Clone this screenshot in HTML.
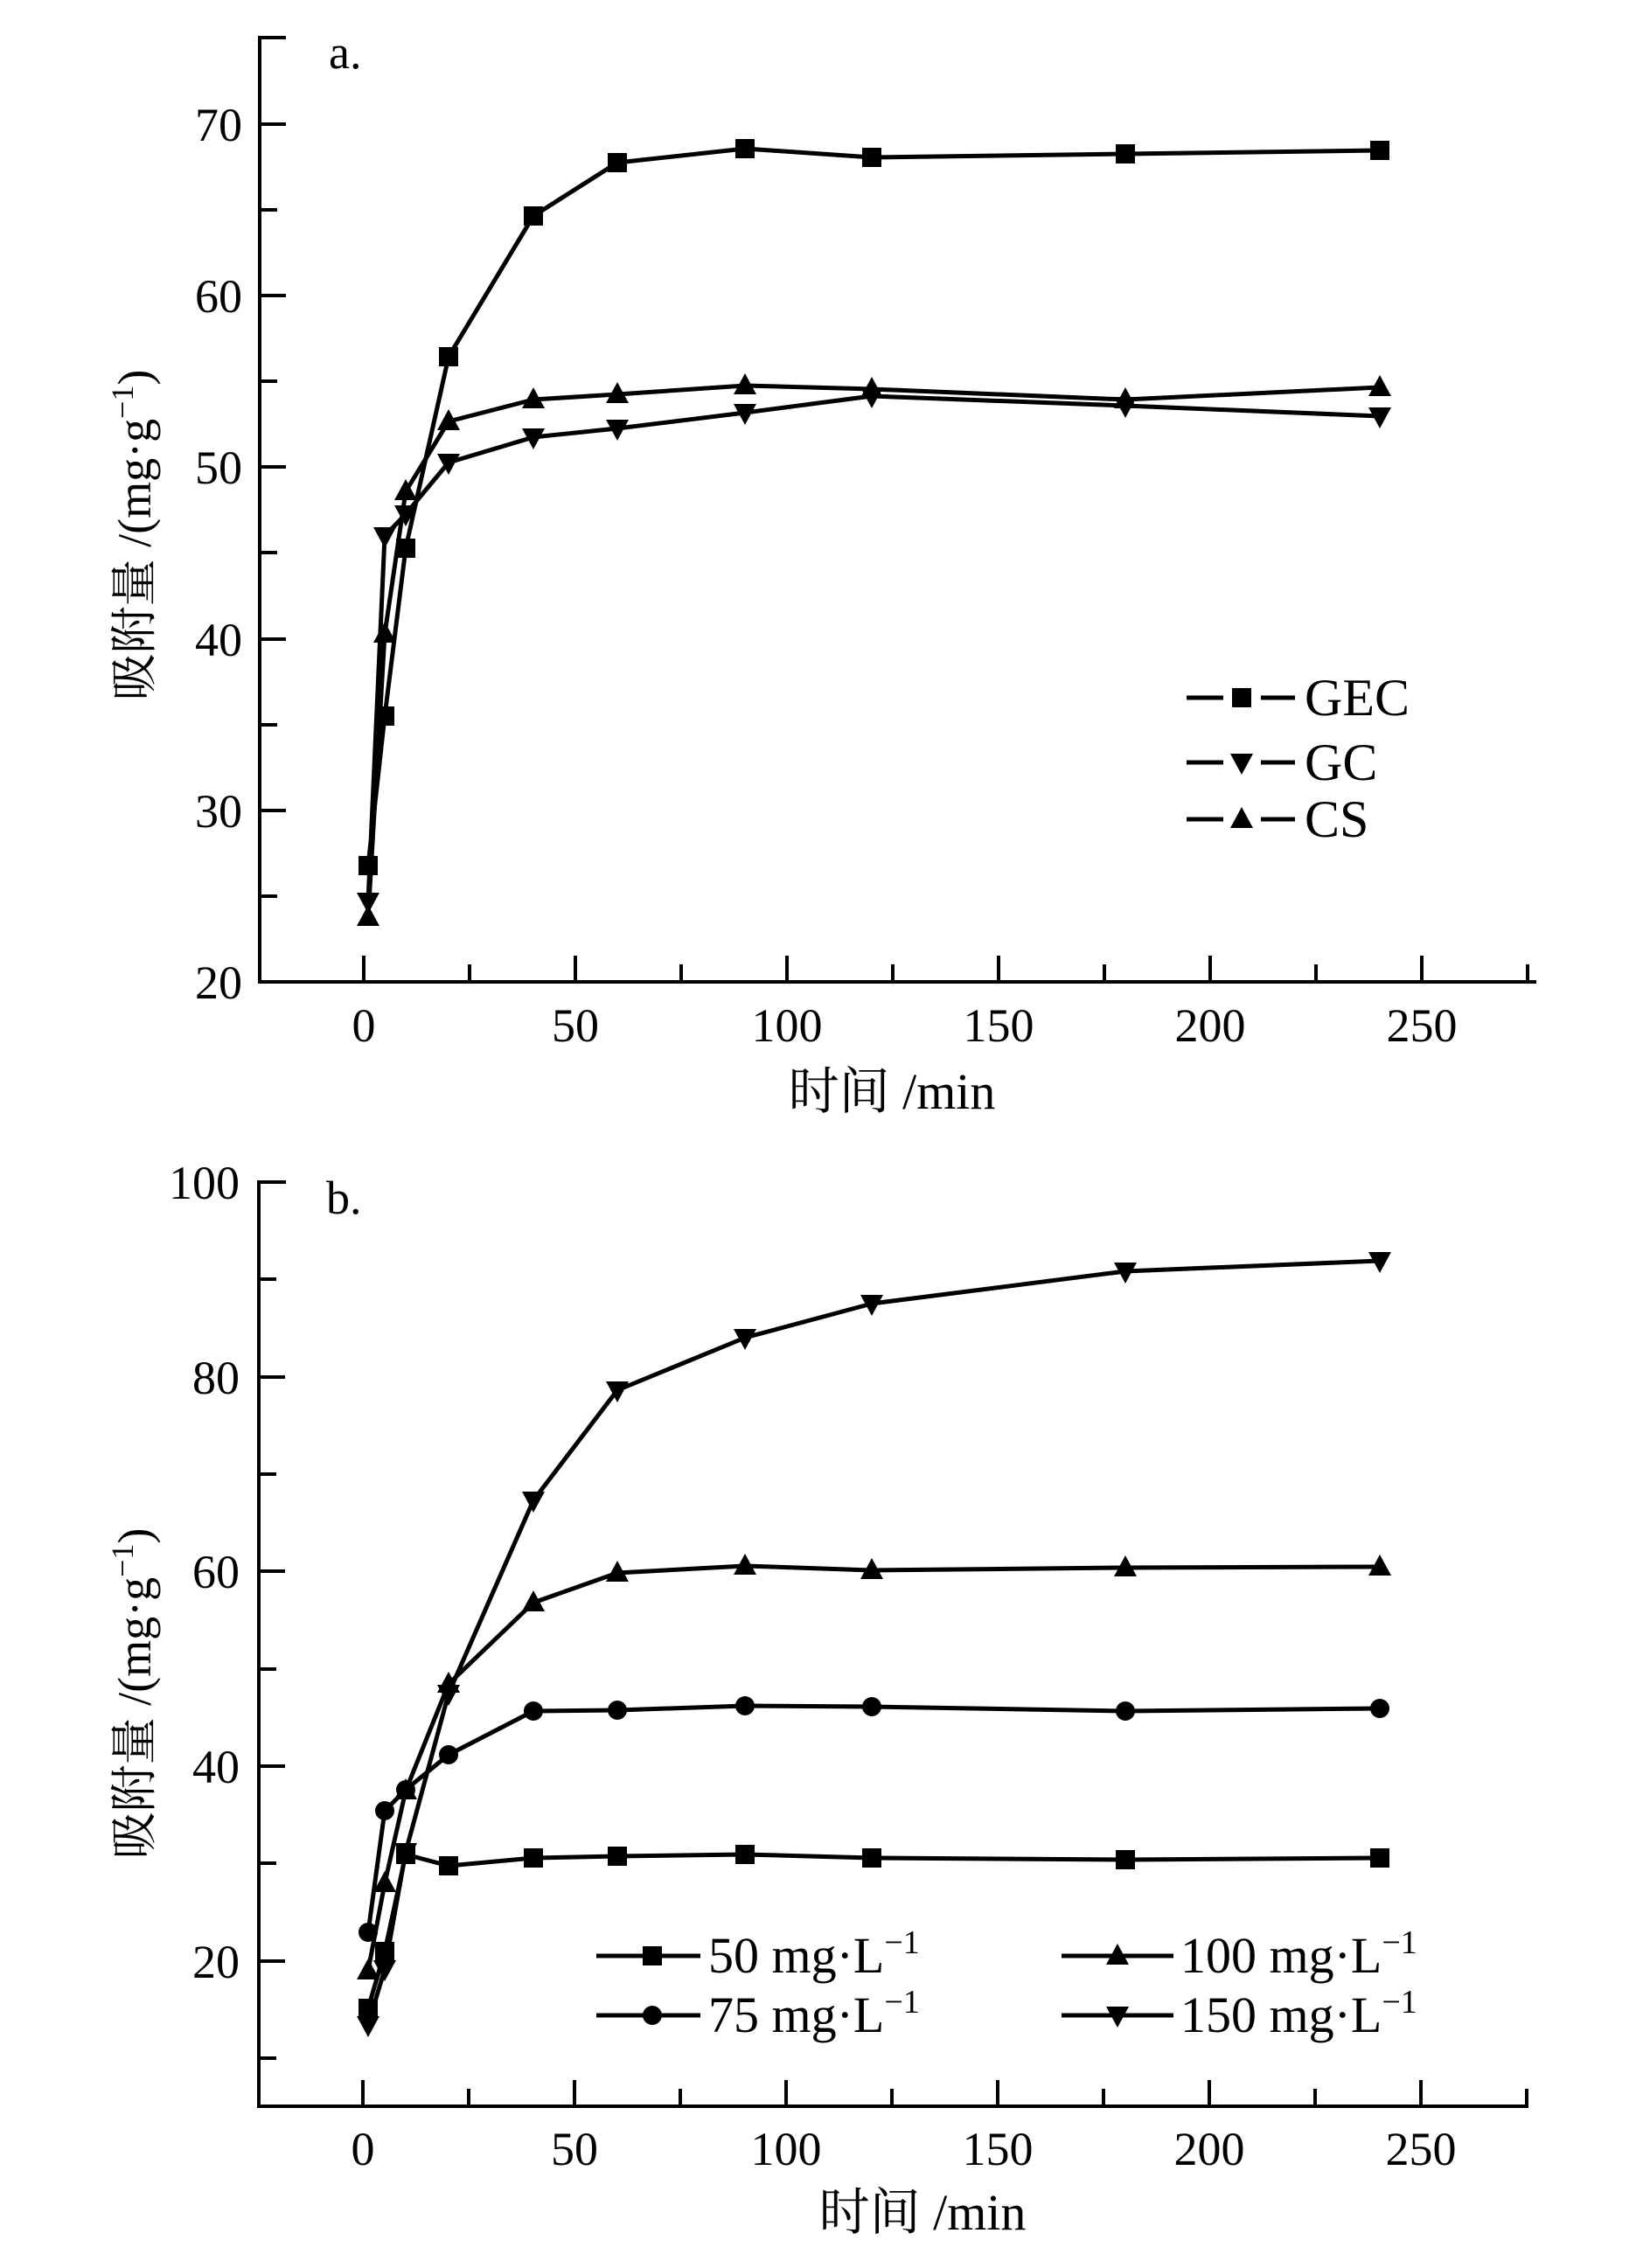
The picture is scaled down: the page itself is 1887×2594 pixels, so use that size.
<!DOCTYPE html>
<html><head><meta charset="utf-8"><style>
html,body{margin:0;padding:0;background:#fff;}
svg{display:block;}
text{font-family:"Liberation Serif","Noto Serif CJK SC",serif;fill:#000;}
</style></head><body>
<svg width="1887" height="2594" viewBox="0 0 1887 2594" xmlns="http://www.w3.org/2000/svg">
<defs>
<rect id="sq" x="-11" y="-11" width="22" height="22" fill="#000"/>
<polygon id="up" points="0,-14 13,10 -13,10" fill="#000"/>
<polygon id="dn" points="0,14 13,-10 -13,-10" fill="#000"/>
<circle id="ci" r="11" fill="#000"/>
</defs>
<g stroke="#000" stroke-width="4" fill="none">
<polyline points="327,43 297,43 297,1123 1757,1123"/>
<line x1="297" y1="142" x2="327" y2="142"/><line x1="297" y1="338" x2="327" y2="338"/>
<line x1="297" y1="534" x2="327" y2="534"/><line x1="297" y1="731" x2="327" y2="731"/>
<line x1="297" y1="927" x2="327" y2="927"/>
<line x1="297" y1="240" x2="317" y2="240"/><line x1="297" y1="436" x2="317" y2="436"/>
<line x1="297" y1="632" x2="317" y2="632"/><line x1="297" y1="829" x2="317" y2="829"/>
<line x1="297" y1="1025" x2="317" y2="1025"/>
<line x1="416" y1="1123" x2="416" y2="1093"/><line x1="658" y1="1123" x2="658" y2="1093"/>
<line x1="900" y1="1123" x2="900" y2="1093"/><line x1="1142" y1="1123" x2="1142" y2="1093"/>
<line x1="1384" y1="1123" x2="1384" y2="1093"/><line x1="1626" y1="1123" x2="1626" y2="1093"/>
<line x1="537" y1="1123" x2="537" y2="1103"/><line x1="779" y1="1123" x2="779" y2="1103"/>
<line x1="1021" y1="1123" x2="1021" y2="1103"/><line x1="1263" y1="1123" x2="1263" y2="1103"/>
<line x1="1505" y1="1123" x2="1505" y2="1103"/><line x1="1747" y1="1123" x2="1747" y2="1103"/>
<polyline points="327,1352 296,1352 296,2409 1748,2409"/>
<line x1="296" y1="1575" x2="326" y2="1575"/><line x1="296" y1="1797" x2="326" y2="1797"/>
<line x1="296" y1="2020" x2="326" y2="2020"/><line x1="296" y1="2243" x2="326" y2="2243"/>
<line x1="296" y1="1463" x2="316" y2="1463"/><line x1="296" y1="1686" x2="316" y2="1686"/>
<line x1="296" y1="1909" x2="316" y2="1909"/><line x1="296" y1="2131" x2="316" y2="2131"/>
<line x1="296" y1="2354" x2="316" y2="2354"/>
<line x1="415" y1="2409" x2="415" y2="2379"/><line x1="657" y1="2409" x2="657" y2="2379"/>
<line x1="899" y1="2409" x2="899" y2="2379"/><line x1="1141" y1="2409" x2="1141" y2="2379"/>
<line x1="1383" y1="2409" x2="1383" y2="2379"/><line x1="1625" y1="2409" x2="1625" y2="2379"/>
<line x1="536" y1="2409" x2="536" y2="2389"/><line x1="778" y1="2409" x2="778" y2="2389"/>
<line x1="1020" y1="2409" x2="1020" y2="2389"/><line x1="1262" y1="2409" x2="1262" y2="2389"/>
<line x1="1504" y1="2409" x2="1504" y2="2389"/><line x1="1746" y1="2409" x2="1746" y2="2389"/>
</g>
<g stroke="#000" stroke-width="5" fill="none" stroke-linejoin="round">
<polyline points="421,990 440,819 464,627 513,408 610,247 706,186 852,170 997,180 1287,176 1578,172"/>
<polyline points="421,1031 440,613 464,588 513,529 610,500 706,490 852,472 997,453 1287,464 1578,476"/>
<polyline points="421,1049 440,725 464,562 513,482 610,457 706,451 852,441 997,445 1287,457 1578,443"/>
<polyline points="421,2297 440,2232 464,2121 513,2134 610,2125 706,2123 852,2121 997,2125 1287,2127 1578,2125"/>
<polyline points="421,2210 440,2071 464,2047 513,2007 610,1957 706,1956 852,1951 997,1952 1287,1957 1578,1954"/>
<polyline points="421,2254 440,2154 464,2048 513,1926 610,1833 706,1799 852,1791 997,1796 1287,1793 1578,1792"/>
<polyline points="421,2316 440,2252 464,2118 513,1937 610,1716 706,1590 852,1530 997,1491 1287,1454 1578,1442"/>
<line x1="1357" y1="798" x2="1399" y2="798"/><line x1="1442" y1="798" x2="1481" y2="798"/>
<line x1="1357" y1="872" x2="1399" y2="872"/><line x1="1442" y1="872" x2="1481" y2="872"/>
<line x1="1357" y1="937" x2="1399" y2="937"/><line x1="1442" y1="937" x2="1481" y2="937"/>
<line x1="682" y1="2237" x2="801" y2="2237"/><line x1="682" y1="2305" x2="801" y2="2305"/>
<line x1="1214" y1="2237" x2="1342" y2="2237"/><line x1="1214" y1="2305" x2="1342" y2="2305"/>
</g>
<g>
<use href="#sq" x="421" y="990"/><use href="#sq" x="440" y="819"/><use href="#sq" x="464" y="627"/><use href="#sq" x="513" y="408"/><use href="#sq" x="610" y="247"/><use href="#sq" x="706" y="186"/><use href="#sq" x="852" y="170"/><use href="#sq" x="997" y="180"/><use href="#sq" x="1287" y="176"/><use href="#sq" x="1578" y="172"/>
<use href="#dn" x="421" y="1031"/><use href="#dn" x="440" y="613"/><use href="#dn" x="464" y="588"/><use href="#dn" x="513" y="529"/><use href="#dn" x="610" y="500"/><use href="#dn" x="706" y="490"/><use href="#dn" x="852" y="472"/><use href="#dn" x="997" y="453"/><use href="#dn" x="1287" y="464"/><use href="#dn" x="1578" y="476"/>
<use href="#up" x="421" y="1049"/><use href="#up" x="440" y="725"/><use href="#up" x="464" y="562"/><use href="#up" x="513" y="482"/><use href="#up" x="610" y="457"/><use href="#up" x="706" y="451"/><use href="#up" x="852" y="441"/><use href="#up" x="997" y="445"/><use href="#up" x="1287" y="457"/><use href="#up" x="1578" y="443"/>
<use href="#sq" x="1420" y="798"/><use href="#dn" x="1420" y="872"/><use href="#up" x="1420" y="937"/>
</g>
<g>
<use href="#sq" x="421" y="2297"/><use href="#sq" x="440" y="2232"/><use href="#sq" x="464" y="2121"/><use href="#sq" x="513" y="2134"/><use href="#sq" x="610" y="2125"/><use href="#sq" x="706" y="2123"/><use href="#sq" x="852" y="2121"/><use href="#sq" x="997" y="2125"/><use href="#sq" x="1287" y="2127"/><use href="#sq" x="1578" y="2125"/>
<use href="#ci" x="421" y="2210"/><use href="#ci" x="440" y="2071"/><use href="#ci" x="464" y="2047"/><use href="#ci" x="513" y="2007"/><use href="#ci" x="610" y="1957"/><use href="#ci" x="706" y="1956"/><use href="#ci" x="852" y="1951"/><use href="#ci" x="997" y="1952"/><use href="#ci" x="1287" y="1957"/><use href="#ci" x="1578" y="1954"/>
<use href="#up" x="421" y="2254"/><use href="#up" x="440" y="2154"/><use href="#up" x="464" y="2048"/><use href="#up" x="513" y="1926"/><use href="#up" x="610" y="1833"/><use href="#up" x="706" y="1799"/><use href="#up" x="852" y="1791"/><use href="#up" x="997" y="1796"/><use href="#up" x="1287" y="1793"/><use href="#up" x="1578" y="1792"/>
<use href="#dn" x="421" y="2316"/><use href="#dn" x="440" y="2252"/><use href="#dn" x="464" y="2118"/><use href="#dn" x="513" y="1937"/><use href="#dn" x="610" y="1716"/><use href="#dn" x="706" y="1590"/><use href="#dn" x="852" y="1530"/><use href="#dn" x="997" y="1491"/><use href="#dn" x="1287" y="1454"/><use href="#dn" x="1578" y="1442"/>
<use href="#sq" x="746" y="2237"/><use href="#ci" x="746" y="2305"/><use href="#up" x="1278" y="2237"/><use href="#dn" x="1278" y="2305"/>
</g>
<g font-size="54" text-anchor="end">
<text x="277" y="161">70</text><text x="277" y="357">60</text><text x="277" y="553">50</text>
<text x="277" y="750">40</text><text x="277" y="946">30</text><text x="277" y="1142">20</text>
</g>
<g font-size="54" text-anchor="middle">
<text x="416" y="1191">0</text><text x="658" y="1191">50</text><text x="900" y="1191">100</text>
<text x="1142" y="1191">150</text><text x="1384" y="1191">200</text><text x="1626" y="1191">250</text>
</g>
<text x="376" y="78" font-size="54">a.</text>
<g font-size="60">
<text x="1492" y="818">GEC</text><text x="1492" y="892">GC</text><text x="1492" y="957">CS</text>
</g>
<text x="1020" y="1268" font-size="58" text-anchor="middle">时间 /min</text>
<text transform="translate(172,612) rotate(-90)" font-size="54" text-anchor="middle">吸附量 /(mg·g<tspan dy="-20" font-size="36">−1</tspan><tspan dy="20">)</tspan></text>
<g font-size="54" text-anchor="end">
<text x="274" y="1371">100</text><text x="274" y="1594">80</text><text x="274" y="1816">60</text>
<text x="274" y="2039">40</text><text x="274" y="2262">20</text>
</g>
<g font-size="54" text-anchor="middle">
<text x="415" y="2476">0</text><text x="657" y="2476">50</text><text x="899" y="2476">100</text>
<text x="1141" y="2476">150</text><text x="1383" y="2476">200</text><text x="1625" y="2476">250</text>
</g>
<text x="373" y="1388" font-size="54">b.</text>
<g font-size="58">
<text x="810" y="2256">50 mg·L<tspan dy="-22" font-size="38">−1</tspan></text>
<text x="810" y="2324">75 mg·L<tspan dy="-22" font-size="38">−1</tspan></text>
<text x="1350" y="2256">100 mg·L<tspan dy="-22" font-size="38">−1</tspan></text>
<text x="1350" y="2324">150 mg·L<tspan dy="-22" font-size="38">−1</tspan></text>
</g>
<text x="1055" y="2550" font-size="58" text-anchor="middle">时间 /min</text>
<text transform="translate(172,1937) rotate(-90)" font-size="54" text-anchor="middle">吸附量 /(mg·g<tspan dy="-20" font-size="36">−1</tspan><tspan dy="20">)</tspan></text>
</svg>
</body></html>
